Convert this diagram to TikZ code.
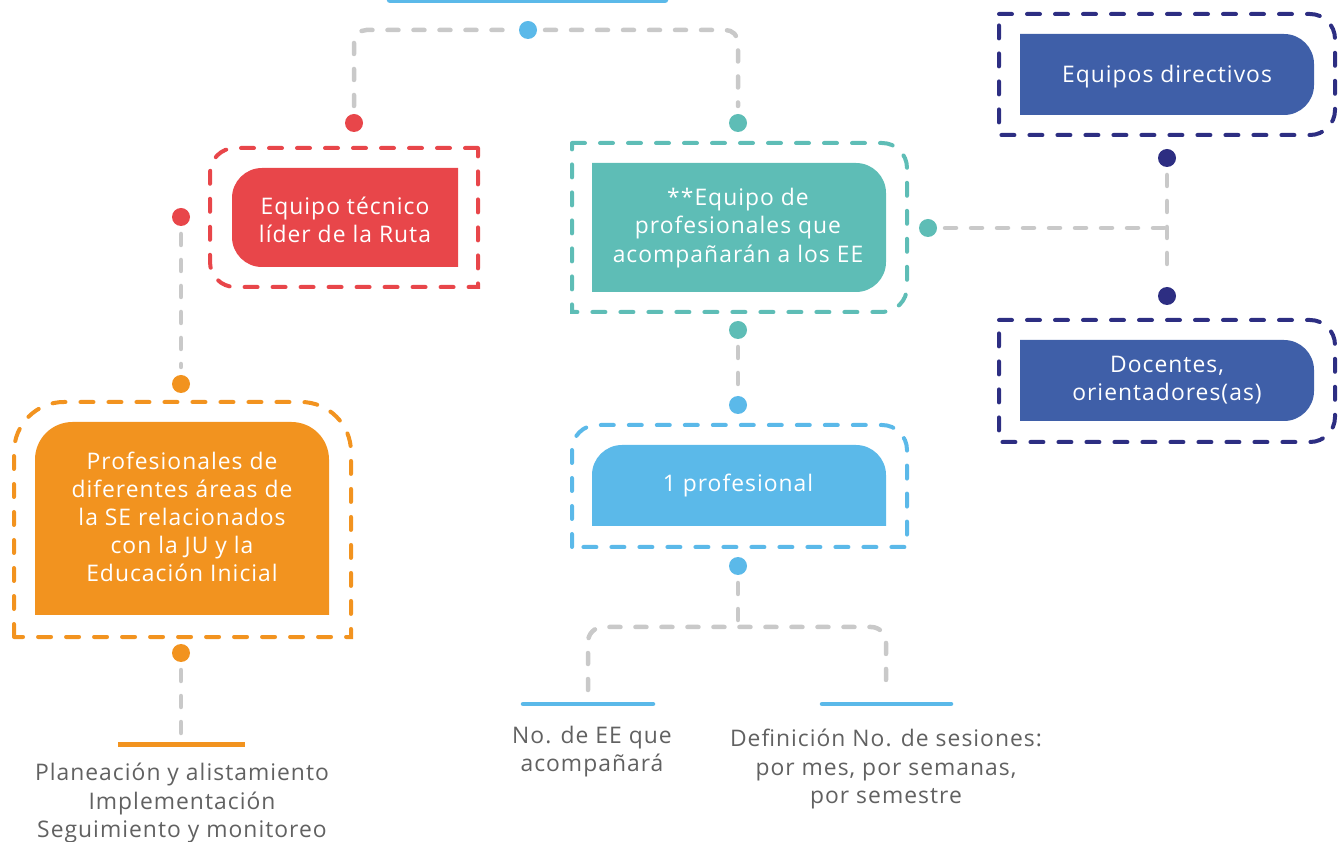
\documentclass[tikz,border=0pt]{standalone}
\usepackage{fontspec}
\setmainfont[LetterSpace=4.5]{Open Sans}
\usetikzlibrary{calc,positioning}
\definecolor{rutared}{HTML}{E8464A}
\definecolor{rutaorange}{HTML}{F2931F}
\definecolor{rutateal}{HTML}{5EBDB6}
\definecolor{rutablue}{HTML}{5BB9E9}
\definecolor{rutanavy}{HTML}{3F5FA8}
\definecolor{rutaink}{HTML}{2D2E82}
\definecolor{linkgray}{HTML}{C9C9C9}
\definecolor{textgray}{HTML}{616161}
\tikzset{
  bullet/.style={circle, fill=#1, minimum size=0.36cm, inner sep=0pt, outer sep=0.16cm},
  link/.style={draw=linkgray, line width=0.09cm, line cap=round, dash pattern=on 0.22cm off 0.30cm},
  frame/.style={draw=#1, line width=0.08cm, line cap=round, dash pattern=on 0.26cm off 0.30cm},
  boxtext/.style={text=white, align=center, font=\fontsize{13}{16}\selectfont},
  notetext/.style={text=textgray, align=center, font=\fontsize{13}{16}\selectfont},
}

\begin{document}
\begin{tikzpicture}
\useasboundingbox (0,0) rectangle (26.84,-16.84);
% top bar (cut by the page)
\draw[rutablue, line width=0.13cm, line cap=round] (7.80,0) -- (13.30,0);
% red box
\draw[frame=rutared] (9.56,-2.96) -- (4.70,-2.96) arc (90:180:0.5) -- (4.20,-5.24) arc (180:270:0.5) -- (9.56,-5.74) -- cycle;
\fill[rutared] (9.16,-3.36) -- (5.24,-3.36) arc (90:180:0.6) -- (4.64,-4.74) arc (180:270:0.6) -- (9.16,-5.34) -- cycle;
\node[boxtext] (tecnico) at (6.90,-4.40) {Equipo técnico\\líder de la Ruta};
% orange box
\draw[frame=rutaorange] (0.28,-12.74) -- (0.28,-9.04) arc (180:90:1.0) -- (6.02,-8.04) arc (90:0:1.0) -- (7.02,-12.74) -- cycle;
\fill[rutaorange] (0.70,-12.30) -- (0.70,-9.19) arc (180:90:0.75) -- (5.83,-8.44) arc (90:0:0.75) -- (6.58,-12.30) -- cycle;
\node[boxtext] (profesionales) at (3.64,-10.34) {Profesionales de\\diferentes áreas de\\la SE relacionados\\con la JU y la\\Educación Inicial};
% teal box
\draw[frame=rutateal] (11.44,-2.86) -- (17.64,-2.86) arc (90:0:0.5) -- (18.14,-5.74) arc (0:-90:0.5) -- (11.44,-6.24) -- cycle;
\fill[rutateal] (11.84,-3.26) -- (17.12,-3.26) arc (90:0:0.6) -- (17.72,-5.24) arc (0:-90:0.6) -- (11.84,-5.84) -- cycle;
\node[boxtext] (acompanantes) at (14.76,-4.56) {**Equipo de\\profesionales que\\acompañarán a los EE};
% blue box
\draw[frame=rutablue] (11.44,-10.94) -- (11.44,-9.00) arc (180:90:0.5) -- (17.64,-8.50) arc (90:0:0.5) -- (18.14,-10.94) -- cycle;
\fill[rutablue] (11.84,-10.52) -- (11.84,-9.50) arc (180:90:0.6) -- (17.12,-8.90) arc (90:0:0.6) -- (17.72,-10.52) -- cycle;
\node[boxtext] (uno) at (14.76,-9.72) {1 profesional};
% navy boxes
\draw[frame=rutaink] (19.98,-0.28) -- (26.20,-0.28) arc (90:0:0.5) -- (26.70,-2.20) arc (0:-90:0.5) -- (19.98,-2.70) -- cycle;
\fill[rutanavy] (20.40,-0.68) -- (25.68,-0.68) arc (90:0:0.6) -- (26.28,-1.70) arc (0:-90:0.6) -- (20.40,-2.30) -- cycle;
\node[boxtext] (directivos) at (23.34,-1.54) {Equipos directivos};
\draw[frame=rutaink] (19.98,-6.40) -- (26.20,-6.40) arc (90:0:0.5) -- (26.70,-8.34) arc (0:-90:0.5) -- (19.98,-8.84) -- cycle;
\fill[rutanavy] (20.40,-6.80) -- (25.68,-6.80) arc (90:0:0.6) -- (26.28,-7.82) arc (0:-90:0.6) -- (20.40,-8.42) -- cycle;
\node[boxtext] (docentes) at (23.34,-7.60) {Docentes,\\orientadores(as)};
% dots
\node[bullet=rutablue] (bdot0) at (10.56,-0.60) {};
\node[bullet=rutared] (rdot1) at (7.08,-2.46) {};
\node[bullet=rutared] (rdot2) at (3.62,-4.34) {};
\node[bullet=rutaorange] (odot1) at (3.62,-7.68) {};
\node[bullet=rutaorange] (odot2) at (3.62,-13.06) {};
\node[bullet=rutateal] (tdot1) at (14.76,-2.46) {};
\node[bullet=rutateal] (tdot2) at (18.56,-4.56) {};
\node[bullet=rutateal] (tdot3) at (14.76,-6.60) {};
\node[bullet=rutablue] (bdot1) at (14.76,-8.10) {};
\node[bullet=rutablue] (bdot2) at (14.76,-11.32) {};
\node[bullet=rutaink] (ndot1) at (23.34,-3.16) {};
\node[bullet=rutaink] (ndot2) at (23.34,-5.92) {};
\coordinate (obar) at (3.62,-14.70);
\coordinate (njoin) at (23.34,-4.56);
\coordinate (bjoin) at (14.76,-12.54);
\coordinate (bleft) at (11.76,-13.80);
\coordinate (bright) at (17.72,-13.80);
% links
\draw[link, rounded corners=0.25cm] (rdot1) |- (bdot0) -| (tdot1);
\draw[link] (rdot2) -- (odot1);
\draw[link] (odot2) -- (obar);
\draw[link] (tdot3) -- (bdot1);
\draw[link] (tdot2) -- (njoin);
\draw[link] (ndot1) -- (ndot2);
\draw[link] (bdot2) -- (bjoin);
\draw[link, rounded corners=0.3cm] (bleft) |- (bjoin) -| (bright);
% bars and notes
\draw[rutaorange, line width=0.1cm] (2.36,-14.88) -- (4.90,-14.88);
\draw[rutablue, line width=0.09cm, line cap=round] (10.46,-14.08) -- (13.06,-14.08);
\draw[rutablue, line width=0.09cm, line cap=round] (16.44,-14.08) -- (19.02,-14.08);
\node[notetext] (fases) at (3.64,-16.06) {Planeación y alistamiento\\Implementación\\Seguimiento y monitoreo};
\node[notetext] (numero) at (11.84,-15.04) {No. de EE que\\acompañará};
\node[notetext] (sesiones) at (17.72,-15.38) {Definición No. de sesiones:\\por mes, por semanas,\\por semestre};
\end{tikzpicture}
\end{document}
